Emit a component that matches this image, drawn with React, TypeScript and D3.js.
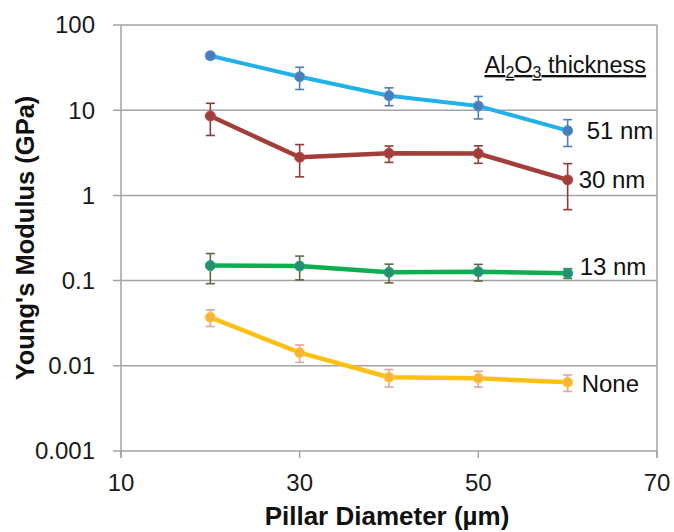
import { useEffect, useRef } from "react";
import * as d3 from "d3";

const diameters = [20, 30, 40, 50, 60];

const modulus51 = [43.6, 24.7, 14.8, 11.2, 5.75];
const error51 = [3.5, 7.2, 3.5, 3.3, 2.0];

const modulus30 = [8.55, 2.8, 3.12, 3.1, 1.52];
const error30 = [3.5, 1.15, 0.68, 0.72, 0.84];

const modulus13 = [0.15, 0.148, 0.125, 0.127, 0.122];
const error13 = [0.058, 0.046, 0.031, 0.028, 0.016];

const modulusNone = [0.0371, 0.01426, 0.00733, 0.00713, 0.0064];
const errorNone = [0.0082, 0.0033, 0.0017, 0.0015, 0.0014];

const xTicks = [10, 30, 50, 70];
const yTicks = [0.001, 0.01, 0.1, 1, 10, 100];
const yTickLabels = ["0.001", "0.01", "0.1", "1", "10", "100"];

const seriesLabels = ["51 nm", "30 nm", "13 nm", "None"];

const FONT = "'Liberation Sans', Arial, Helvetica, sans-serif";

const App = () => {
  const svgRef = useRef<SVGSVGElement | null>(null);

  useEffect(() => {
    const WIDTH = 674;
    const HEIGHT = 532;
    const LEFT = 121;
    const RIGHT = 657;
    const TOP = 25;
    const BOTTOM = 451;

    const x = d3.scaleLinear().domain([10, 70]).range([LEFT, RIGHT]);
    const y = d3.scaleLog().domain([0.001, 100]).range([BOTTOM, TOP]);

    const svg = d3
      .select(svgRef.current)
      .attr("width", WIDTH)
      .attr("height", HEIGHT);

    svg.selectAll("*").remove();

    const grid = "#a3a3a3";

    // horizontal gridlines with left tick stubs
    svg
      .append("g")
      .selectAll("line")
      .data(yTicks)
      .enter()
      .append("line")
      .attr("x1", LEFT - 8)
      .attr("x2", RIGHT)
      .attr("y1", (d) => y(d))
      .attr("y2", (d) => y(d))
      .attr("stroke", grid)
      .attr("stroke-width", 1.5);

    // left axis + right border
    svg
      .append("line")
      .attr("x1", LEFT)
      .attr("x2", LEFT)
      .attr("y1", TOP)
      .attr("y2", BOTTOM + 7)
      .attr("stroke", grid)
      .attr("stroke-width", 1.5);
    svg
      .append("line")
      .attr("x1", RIGHT)
      .attr("x2", RIGHT)
      .attr("y1", TOP)
      .attr("y2", BOTTOM + 7)
      .attr("stroke", grid)
      .attr("stroke-width", 1.5);

    // x ticks
    svg
      .append("g")
      .selectAll("line")
      .data(xTicks)
      .enter()
      .append("line")
      .attr("x1", (d) => x(d))
      .attr("x2", (d) => x(d))
      .attr("y1", BOTTOM)
      .attr("y2", BOTTOM + 7)
      .attr("stroke", grid)
      .attr("stroke-width", 1.5);

    svg
      .append("g")
      .selectAll("text")
      .data(xTicks)
      .enter()
      .append("text")
      .attr("x", (d) => x(d))
      .attr("y", BOTTOM + 40)
      .attr("text-anchor", "middle")
      .attr("font-family", FONT)
      .attr("font-size", 24)
      .attr("fill", "#1a1a1a")
      .text((d) => d);

    svg
      .append("g")
      .selectAll("text")
      .data(yTicks)
      .enter()
      .append("text")
      .attr("x", LEFT - 26)
      .attr("y", (d) => y(d))
      .attr("dy", "0.35em")
      .attr("text-anchor", "end")
      .attr("font-family", FONT)
      .attr("font-size", 24)
      .attr("fill", "#1a1a1a")
      .text((d, i) => yTickLabels[i]);

    // axis titles
    svg
      .append("text")
      .attr("x", (LEFT + RIGHT) / 2 - 2)
      .attr("y", 525)
      .attr("text-anchor", "middle")
      .attr("font-family", FONT)
      .attr("font-weight", "bold")
      .attr("font-size", 26)
      .attr("fill", "#111")
      .text("Pillar Diameter (µm)");

    svg
      .append("text")
      .attr("transform", `translate(34, ${(TOP + BOTTOM) / 2}) rotate(-90)`)
      .attr("text-anchor", "middle")
      .attr("font-family", FONT)
      .attr("font-weight", "bold")
      .attr("font-size", 25.5)
      .attr("fill", "#111")
      .text("Young's Modulus (GPa)");

    const series = [
      { values: modulus51, errors: error51, line: "#1fb1e7", marker: "#4a7ebb", bar: "#4a7ebb", width: 4 },
      { values: modulus30, errors: error30, line: "#a33d3a", marker: "#a33d3a", bar: "#8e3b39", width: 4.5 },
      { values: modulus13, errors: error13, line: "#0cae4f", marker: "#23906f", bar: "#5b6a3c", width: 4.5 },
      { values: modulusNone, errors: errorNone, line: "#fdc010", marker: "#f8b43a", bar: "#e2a29f", width: 4.5 },
    ];

    const line = d3
      .line<number>()
      .x((d, i) => x(diameters[i]))
      .y((d) => y(d));

    series.forEach((s) => {
      const g = svg.append("g");

      // error bars
      const eb = g
        .selectAll(".err")
        .data(s.values)
        .enter()
        .append("g")
        .classed("err", true);
      eb.append("line")
        .attr("x1", (d, i) => x(diameters[i]))
        .attr("x2", (d, i) => x(diameters[i]))
        .attr("y1", (d, i) => y(d + s.errors[i]))
        .attr("y2", (d, i) => y(Math.max(d - s.errors[i], 1e-6)))
        .attr("stroke", s.bar)
        .attr("stroke-width", 1.6);
      eb.append("line")
        .attr("x1", (d, i) => x(diameters[i]) - 4.5)
        .attr("x2", (d, i) => x(diameters[i]) + 4.5)
        .attr("y1", (d, i) => y(d + s.errors[i]))
        .attr("y2", (d, i) => y(d + s.errors[i]))
        .attr("stroke", s.bar)
        .attr("stroke-width", 1.6);
      eb.append("line")
        .attr("x1", (d, i) => x(diameters[i]) - 4.5)
        .attr("x2", (d, i) => x(diameters[i]) + 4.5)
        .attr("y1", (d, i) => y(d - s.errors[i]))
        .attr("y2", (d, i) => y(d - s.errors[i]))
        .attr("stroke", s.bar)
        .attr("stroke-width", 1.6);

      g.append("path")
        .datum(s.values)
        .attr("d", line)
        .attr("fill", "none")
        .attr("stroke", s.line)
        .attr("stroke-width", s.width)
        .attr("stroke-linejoin", "round");

      g.selectAll("circle")
        .data(s.values)
        .enter()
        .append("circle")
        .attr("cx", (d, i) => x(diameters[i]))
        .attr("cy", (d) => y(d))
        .attr("r", 5)
        .attr("fill", s.marker)
        .attr("stroke", d3.color(s.marker)!.brighter(0.4).toString())
        .attr("stroke-width", 1);
    });

    // series labels next to last point
    const labelOffsets = [
      [19, 8],
      [11, 8],
      [12, 2],
      [14, 10],
    ];
    series.forEach((s, k) => {
      const last = s.values.length - 1;
      svg
        .append("text")
        .attr("x", x(diameters[last]) + labelOffsets[k][0])
        .attr("y", y(s.values[last]) + labelOffsets[k][1])
        .attr("font-family", FONT)
        .attr("font-size", 24)
        .attr("fill", "#111")
        .text(seriesLabels[k]);
    });

    // legend title
    const title = svg
      .append("text")
      .attr("x", 646)
      .attr("y", 73)
      .attr("text-anchor", "end")
      .attr("font-family", FONT)
      .attr("font-size", 23.5)
      .attr("fill", "#111")
      .attr("text-decoration", "underline");
    title.append("tspan").text("Al");
    title.append("tspan").attr("font-size", 16).attr("dy", 5).text("2");
    title.append("tspan").attr("dy", -5).text("O");
    title.append("tspan").attr("font-size", 16).attr("dy", 5).text("3");
    title.append("tspan").attr("dy", -5).text(" thickness");
  }, []);

  return (
    <svg
      ref={svgRef}
      style={{ position: "absolute", left: 0, top: 0, background: "#fff" }}
    />
  );
};

export default App;
